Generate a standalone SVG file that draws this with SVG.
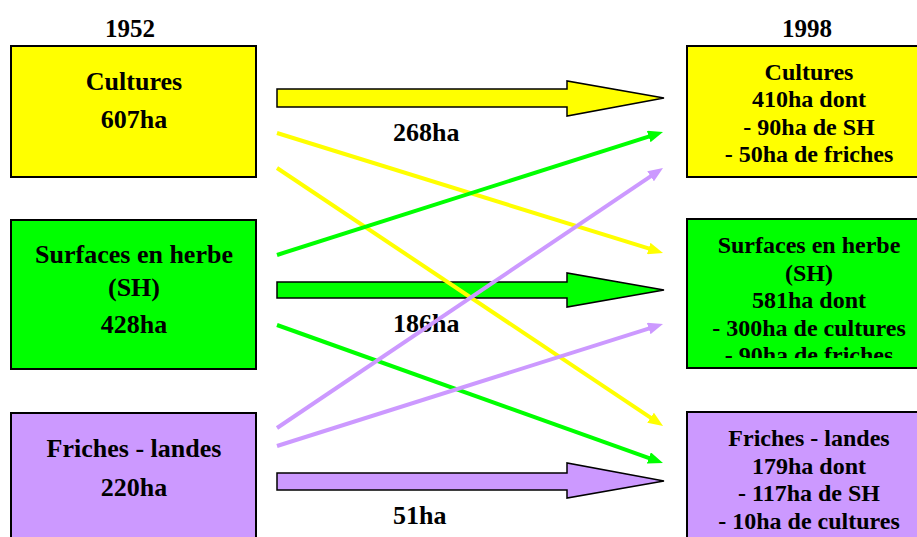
<svg xmlns="http://www.w3.org/2000/svg" width="917" height="537" viewBox="0 0 917 537">
  <style>
    text { font-family: "Liberation Serif", "Times New Roman", serif; font-weight: bold; fill: #000; text-anchor: middle; }
    .hdr { font-size: 25px; }
    .lt { font-size: 26px; }
    .rt { font-size: 24px; }
    .lbl { font-size: 26px; text-anchor: start; }
    .box { stroke: #000; stroke-width: 2; }
    .big { stroke: #000; stroke-width: 1.5; stroke-linejoin: miter; }
    .thin { stroke-width: 4; fill: none; }
    .y { fill: #FFFF00; }
    .g { fill: #00FF00; }
    .p { fill: #CC99FF; }
  </style>
  <defs>
    <marker id="mY" markerUnits="userSpaceOnUse" markerWidth="15" markerHeight="12" refX="4" refY="6" orient="auto">
      <path d="M0,0 L15,6 L0,12 z" fill="#FFFF00"/>
    </marker>
    <marker id="mG" markerUnits="userSpaceOnUse" markerWidth="15" markerHeight="12" refX="4" refY="6" orient="auto">
      <path d="M0,0 L15,6 L0,12 z" fill="#00FF00"/>
    </marker>
    <marker id="mP" markerUnits="userSpaceOnUse" markerWidth="15" markerHeight="12" refX="4" refY="6" orient="auto">
      <path d="M0,0 L15,6 L0,12 z" fill="#CC99FF"/>
    </marker>
    <clipPath id="clipSH">
      <rect x="687" y="219" width="244" height="139"/>
    </clipPath>
  </defs>
  <rect width="917" height="537" fill="#fff"/>

  <text class="hdr" x="130" y="37">1952</text>
  <text class="hdr" x="807" y="37">1998</text>

  <g id="left-cultures">
    <rect class="box y" x="11" y="46" width="245" height="131"/>
    <text class="lt" x="134" y="90">Cultures</text>
    <text class="lt" x="134" y="128">607ha</text>
  </g>
  <g id="left-sh">
    <rect class="box g" x="11" y="220" width="245" height="149"/>
    <text class="lt" x="134" y="263">Surfaces en herbe</text>
    <text class="lt" x="134" y="296">(SH)</text>
    <text class="lt" x="134" y="333">428ha</text>
  </g>
  <g id="left-friches">
    <rect class="box p" x="11" y="413" width="245" height="140"/>
    <text class="lt" x="134" y="457">Friches - landes</text>
    <text class="lt" x="134" y="496">220ha</text>
  </g>

  <g id="right-cultures">
    <rect class="box y" x="687" y="46" width="244" height="131"/>
    <text class="rt" x="809" y="80">Cultures</text>
    <text class="rt" x="809" y="107">410ha dont</text>
    <text class="rt" x="809" y="134.5">- 90ha de SH</text>
    <text class="rt" x="809" y="162">- 50ha de friches</text>
  </g>
  <g id="right-sh">
    <rect class="box g" x="687" y="219" width="244" height="149"/>
    <g clip-path="url(#clipSH)">
      <text class="rt" x="809" y="253">Surfaces en herbe</text>
      <text class="rt" x="809" y="280.5">(SH)</text>
      <text class="rt" x="809" y="308">581ha dont</text>
      <text class="rt" x="809" y="335.5">- 300ha de cultures</text>
      <text class="rt" x="809" y="363">- 90ha de friches</text>
    </g>
  </g>
  <g id="right-friches">
    <rect class="box p" x="687" y="412" width="244" height="140"/>
    <text class="rt" x="809" y="446">Friches - landes</text>
    <text class="rt" x="809" y="473.5">179ha dont</text>
    <text class="rt" x="809" y="501">- 117ha de SH</text>
    <text class="rt" x="809" y="528.5">- 10ha de cultures</text>
  </g>

  <g id="connectors">
    <polygon class="big y" points="277,89 567,89 567,81 664,98 567,116 567,107 277,107"/>
    <polygon class="big g" points="277,282 567,282 567,273 664,290 567,307 567,298 277,298"/>
    <polygon class="big p" points="277,473 567,473 567,463 664,481 567,498 567,490 277,490"/>
    <text class="lbl" x="393" y="141">268ha</text>
    <text class="lbl" x="393" y="332">186ha</text>
    <text class="lbl" x="393" y="524">51ha</text>

    <line class="thin" stroke="#FFFF00" x1="277" y1="133" x2="652.5" y2="249.7" marker-end="url(#mY)"/>
    <line class="thin" stroke="#FFFF00" x1="277" y1="168" x2="653.9" y2="419.9" marker-end="url(#mY)"/>
    <line class="thin" stroke="#00FF00" x1="277" y1="255" x2="652.5" y2="135.3" marker-end="url(#mG)"/>
    <line class="thin" stroke="#00FF00" x1="277" y1="325" x2="652.6" y2="459.3" marker-end="url(#mG)"/>
    <line class="thin" stroke="#CC99FF" x1="277" y1="428" x2="653.9" y2="174.1" marker-end="url(#mP)"/>
    <line class="thin" stroke="#CC99FF" x1="277" y1="446" x2="652.5" y2="327.3" marker-end="url(#mP)"/>
  </g>
</svg>
